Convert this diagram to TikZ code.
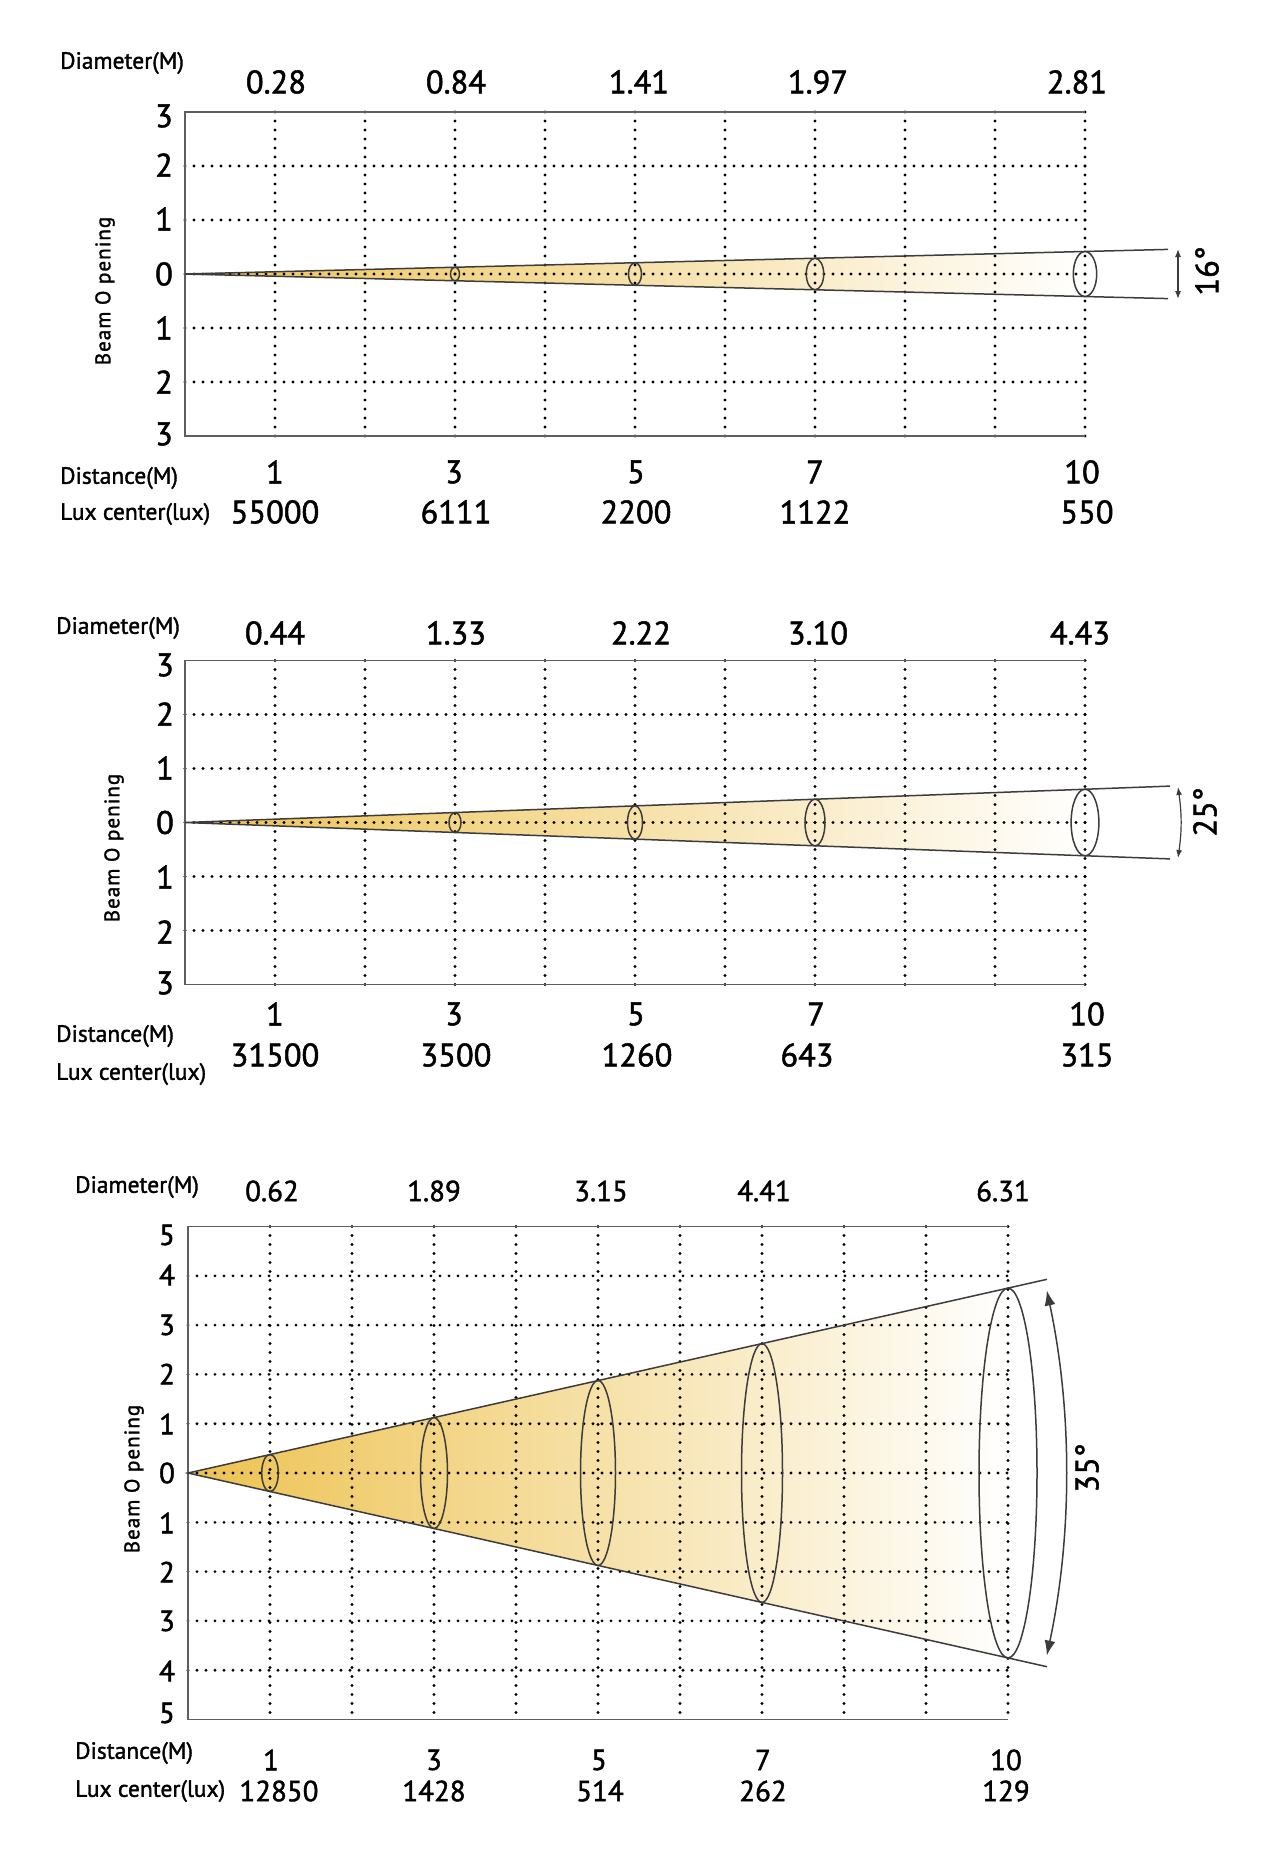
\documentclass[tikz,border=0pt]{standalone}
\usepackage{fontspec}
\setmainfont{PT Sans}[FakeBold=1.5]
\usetikzlibrary{arrows.meta}
\definecolor{beamgold}{RGB}{237,194,80}
\definecolor{framegray}{RGB}{95,95,95}
\definecolor{linegray}{RGB}{60,60,60}
\tikzset{
  griddot/.style={line width=3.1pt, dash pattern=on 0pt off 9pt, line cap=round},
  frameline/.style={framegray, line width=1.6pt},
  beamline/.style={linegray, line width=1.5pt},
  ring/.style={linegray, line width=1.5pt},
  beamfill/.style={left color=beamgold, middle color=beamgold!75!white, right color=white},
  bignum/.style={font=\fontsize{32.5}{36}\selectfont, inner sep=0pt},
  midnum/.style={font=\fontsize{29}{32}\selectfont, inner sep=0pt},
  caption/.style={font=\fontsize{23.5}{26}\selectfont, inner sep=0pt, anchor=west},
  beamlbl/.style={font=\fontsize{21}{23}\selectfont\addfontfeatures{LetterSpace=5}, inner sep=0pt, rotate=90},
}
\begin{document}
\begin{tikzpicture}[x=1pt,y=-1pt]
        \useasboundingbox (0,0) rectangle (1266,1860);

        % ---------- 16 degree beam ----------
        \coordinate (apexA) at (185,274);
        \coordinate (endAt) at (1168,249.4);
        \coordinate (endAb) at (1168,298.6);
        \shade[beamfill] (apexA) -- (1085,251.5) -- (1085,296.5) -- cycle;
        \foreach \x in {275,365,...,1085} \draw[griddot] (\x,112) -- (\x,436);
        \foreach \y in {166,220,274,328,382} \draw[griddot] (185,\y) -- (1085,\y);
        \draw[frameline] (1085,112) -- (185,112) -- (185,436) -- (1085,436);
        \draw[beamline] (endAt) -- (apexA) -- (endAb);
        \draw[ring] (455,274) ellipse[x radius=4.5, y radius=6.75];
        \draw[ring] (635,274) ellipse[x radius=6.5, y radius=11.25];
        \draw[ring] (815,274) ellipse[x radius=8.7, y radius=15.75];
        \draw[ring] (1085,274) ellipse[x radius=11.7, y radius=22.5];
        \coordinate (arrAt) at (1178,249);
        \coordinate (arrAb) at (1178,299);
        \draw[{Latex[length=8pt,width=6pt]}-{Latex[length=8pt,width=6pt]}, linegray, line width=1.2pt] (arrAt) -- (arrAb);
        \node[bignum, rotate=90] (angA) at (1207,271) {16°};

        \node[caption] (diaA) at (60,63) {Diameter(M)};
        \node[caption] (disA) at (60,478) {Distance(M)};
        \node[caption] (luxA) at (60,514) {Lux center(lux)};
        \node[beamlbl] (openA) at (105,291) {Beam O pening};
        \foreach \t/\y [count=\i] in {3/116,2/165,1/219,0/274,1/328,2/382,3/434}
            \node[bignum] (rowA\i) at (164,\y) {\t};
        \node[bignum] (dA1) at (276,82) {0.28};
        \node[bignum] (dA2) at (456,82) {0.84};
        \node[bignum] (dA3) at (639,82) {1.41};
        \node[bignum] (dA4) at (818,82) {1.97};
        \node[bignum] (dA5) at (1077,82) {2.81};
        \node[bignum] (mA1) at (275,472) {1};
        \node[bignum] (mA2) at (454,472) {3};
        \node[bignum] (mA3) at (636,472) {5};
        \node[bignum] (mA4) at (815,472) {7};
        \node[bignum] (mA5) at (1082,472) {10};
        \node[bignum] (lA1) at (275,512) {55000};
        \node[bignum] (lA2) at (456,512) {6111};
        \node[bignum] (lA3) at (636,512) {2200};
        \node[bignum] (lA4) at (815,512) {1122};
        \node[bignum] (lA5) at (1087,512) {550};

        % ---------- 25 degree beam ----------
        \coordinate (apexB) at (185,822.5);
        \coordinate (endBt) at (1170,786.1);
        \coordinate (endBb) at (1170,858.9);
        \shade[beamfill] (apexB) -- (1085,789.2) -- (1085,855.8) -- cycle;
        \foreach \x in {275,365,...,1085} \draw[griddot] (\x,660.5) -- (\x,984.5);
        \foreach \y in {714.5,768.5,822.5,876.5,930.5} \draw[griddot] (185,\y) -- (1085,\y);
        \draw[frameline] (1085,660.5) -- (185,660.5) -- (185,984.5) -- (1085,984.5);
        \draw[beamline] (endBt) -- (apexB) -- (endBb);
        \draw[ring] (455,822.5) ellipse[x radius=6, y radius=10];
        \draw[ring] (635,822.5) ellipse[x radius=7.5, y radius=16.7];
        \draw[ring] (815,822.5) ellipse[x radius=10, y radius=23.3];
        \draw[ring] (1085,822.5) ellipse[x radius=13.9, y radius=33.3];
        \coordinate (arrBt) at (1178,787);
        \coordinate (arrBb) at (1178,858);
        \draw[{Latex[length=8pt,width=6pt]}-{Latex[length=8pt,width=6pt]}, linegray, line width=1.2pt] (arrBt) to[bend left=8] (arrBb);
        \node[bignum, rotate=90] (angB) at (1205,812) {25°};

        \node[caption] (diaB) at (56,628) {Diameter(M)};
        \node[caption] (disB) at (56,1036) {Distance(M)};
        \node[caption] (luxB) at (56,1074) {Lux center(lux)};
        \node[beamlbl] (openB) at (114,848) {Beam O pening};
        \foreach \t/\y [count=\i] in {3/665,2/714,1/768,0/822.5,1/877,2/932,3/983}
            \node[bignum] (rowB\i) at (165,\y) {\t};
        \node[bignum] (dB1) at (275,633) {0.44};
        \node[bignum] (dB2) at (456,633) {1.33};
        \node[bignum] (dB3) at (641,633) {2.22};
        \node[bignum] (dB4) at (818,633) {3.10};
        \node[bignum] (dB5) at (1080,633) {4.43};
        \node[bignum] (mB1) at (275,1014) {1};
        \node[bignum] (mB2) at (454,1014) {3};
        \node[bignum] (mB3) at (636,1014) {5};
        \node[bignum] (mB4) at (816,1014) {7};
        \node[bignum] (mB5) at (1087,1014) {10};
        \node[bignum] (lB1) at (275,1055) {31500};
        \node[bignum] (lB2) at (456,1055) {3500};
        \node[bignum] (lB3) at (637,1055) {1260};
        \node[bignum] (lB4) at (807,1055) {643};
        \node[bignum] (lB5) at (1087,1055) {315};

        % ---------- 35 degree beam ----------
        \coordinate (apexC) at (188,1473);
        \coordinate (endCt) at (1047,1279.3);
        \coordinate (endCb) at (1047,1666.7);
        \shade[beamfill] (apexC) -- (1008,1288.1) -- (1008,1657.9) -- cycle;
        \foreach \x in {270,352,...,1008} \draw[griddot] (\x,1226.5) -- (\x,1719.5);
        \foreach \k in {-4,...,4} \draw[griddot] (188,{1473+49.3*\k}) -- (1008,{1473+49.3*\k});
        \draw[frameline] (1008,1226.5) -- (188,1226.5) -- (188,1719.5) -- (1008,1719.5);
        \draw[beamline] (endCt) -- (apexC) -- (endCb);
        \draw[ring] (270,1473) ellipse[x radius=8.3, y radius=18.5];
        \draw[ring] (434,1473) ellipse[x radius=13.5, y radius=55.5];
        \draw[ring] (598,1473) ellipse[x radius=17.5, y radius=92.5];
        \draw[ring] (762,1473) ellipse[x radius=20.5, y radius=129.4];
        \draw[ring] (1008,1473) ellipse[x radius=29, y radius=184.9];
        \coordinate (arrCt) at ([shift={(-12:878)}]apexC);
        \draw[{Latex[length=15pt,width=11pt]}-{Latex[length=15pt,width=11pt]}, linegray, line width=1.5pt] (arrCt) arc[start angle=-12, end angle=12, radius=878];
        \node[bignum, rotate=90] (angC) at (1087,1468) {35°};

        \node[caption] (diaC) at (75,1187) {Diameter(M)};
        \node[caption] (disC) at (75,1753) {Distance(M)};
        \node[caption] (luxC) at (75,1791) {Lux center(lux)};
        \node[beamlbl] (openC) at (134,1479) {Beam O pening};
        \foreach \t/\y [count=\i] in {5/1235,4/1275,3/1325,2/1374,1/1424,0/1473,1/1523,2/1572,3/1621,4/1671,5/1713}
            \node[midnum] (rowC\i) at (167,\y) {\t};
        \node[midnum] (dC1) at (272,1191) {0.62};
        \node[midnum] (dC2) at (434,1191) {1.89};
        \node[midnum] (dC3) at (601,1191) {3.15};
        \node[midnum] (dC4) at (764,1191) {4.41};
        \node[midnum] (dC5) at (1003,1191) {6.31};
        \node[midnum] (mC1) at (271,1760) {1};
        \node[midnum] (mC2) at (434,1760) {3};
        \node[midnum] (mC3) at (599,1760) {5};
        \node[midnum] (mC4) at (763,1760) {7};
        \node[midnum] (mC5) at (1006,1760) {10};
        \node[midnum] (lC1) at (279,1791) {12850};
        \node[midnum] (lC2) at (434,1791) {1428};
        \node[midnum] (lC3) at (600,1791) {514};
        \node[midnum] (lC4) at (763,1791) {262};
        \node[midnum] (lC5) at (1006,1791) {129};
    \end{tikzpicture}
\end{document}
